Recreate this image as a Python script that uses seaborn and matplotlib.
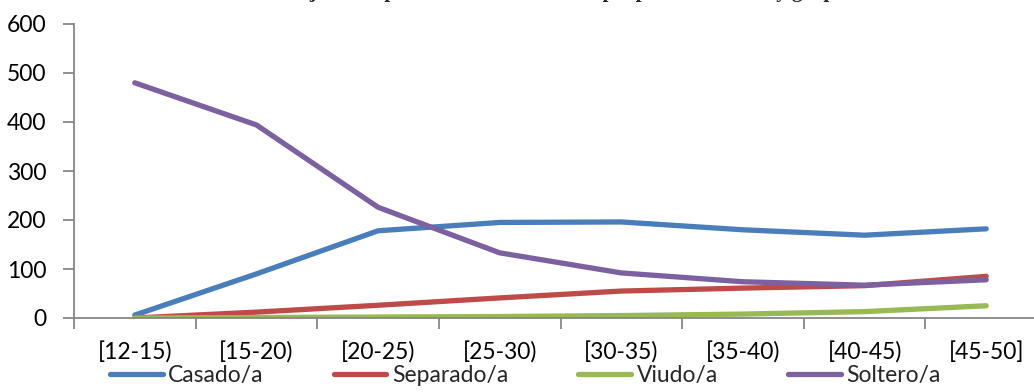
import pandas as pd
import matplotlib
matplotlib.use('Agg')
import matplotlib.pyplot as plt
import seaborn as sns

# Datos: mujeres por estado civil y grupo de edad
grupos_edad = ['[12-15)', '[15-20)', '[20-25)', '[25-30)', '[30-35)', '[35-40)', '[40-45)', '[45-50]']
casado = [6, 90, 178, 195, 196, 180, 169, 182]
separado = [0, 12, 26, 41, 55, 61, 66, 85]
viudo = [0, 1, 2, 3, 5, 8, 13, 25]
soltero = [480, 394, 226, 133, 92, 74, 67, 78]

estados = ['Casado/a', 'Separado/a', 'Viudo/a', 'Soltero/a']
colores = {'Casado/a': '#4A7EBB', 'Separado/a': '#BE4B48',
           'Viudo/a': '#98B954', 'Soltero/a': '#7D60A0'}

# Formato largo para seaborn
df = pd.DataFrame({'Grupo': grupos_edad * 4,
                   'Estado': [e for e in estados for _ in grupos_edad],
                   'Mujeres': casado + separado + viudo + soltero})

sns.set_style('white')
plt.rcParams['font.family'] = ['Lato', 'DejaVu Sans']

fig = plt.figure(figsize=(10.34, 3.92), dpi=100)
ax = fig.add_axes([74 / 1034, 1 - 318 / 392, 973 / 1034, 294 / 392])

sns.lineplot(data=df, x='Grupo', y='Mujeres', hue='Estado', hue_order=estados,
             palette=colores, sort=False, linewidth=3.8, solid_capstyle='round',
             legend=True, ax=ax)

ax.set_xlim(-0.5, len(grupos_edad) - 0.5)
ax.set_ylim(0, 600)
ax.set_yticks(range(0, 601, 100))
ax.set_xlabel('')
ax.set_ylabel('')

# Marcas del eje x entre categorias, como en Excel
ax.set_xticks([i + 0.5 for i in range(-1, len(grupos_edad))], minor=True)
ax.tick_params(axis='x', which='major', length=0, pad=17, labelsize=16.5, colors='black')
ax.tick_params(axis='x', which='minor', length=8, width=1.3, color='#868686', direction='out')
ax.tick_params(axis='y', length=8, width=1.3, color='#868686', direction='out',
               pad=12, labelsize=16.5, labelcolor='black')
ax.tick_params(bottom=True, left=True, which='both')

for lado in ['top', 'right']:
    ax.spines[lado].set_visible(False)
for lado in ['left', 'bottom']:
    ax.spines[lado].set_color('#868686')
    ax.spines[lado].set_linewidth(1.3)

handles, labels = ax.get_legend_handles_labels()
ax.get_legend().remove()
fig.legend(handles, labels, loc='center', bbox_to_anchor=(0.508, 0.043), ncol=4,
           frameon=False, fontsize=16.5, handlelength=2.3, handletextpad=0.25,
           columnspacing=3.05)

# Titulo recortado en la parte superior de la imagen (como en la referencia)
fig.text(0.53, 1.008, 'Número de mujeres empadronadas en el municipio por estado civil y grupo de edad',
         ha='center', va='baseline', fontsize=15, fontweight='bold',
         family=['Liberation Serif', 'DejaVu Serif'])

fig.savefig('out.png', dpi=100)
